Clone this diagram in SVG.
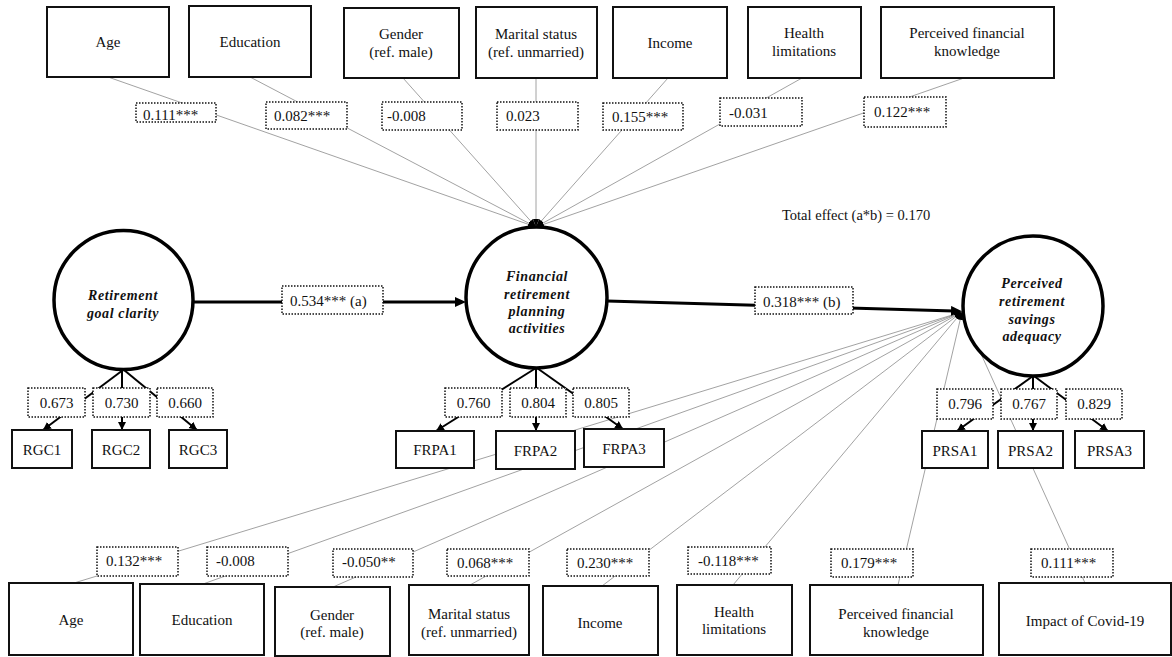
<svg xmlns="http://www.w3.org/2000/svg" width="1172" height="657" viewBox="0 0 1172 657">
<style>
text{font-family:"Liberation Serif","Times New Roman",serif;font-size:15px;fill:#111}
.c{text-anchor:middle}
.lat{font-weight:bold;font-style:italic;font-size:14px;letter-spacing:0.6px;text-anchor:middle}
.box{fill:#fff;stroke:#111;stroke-width:2}
.lbl{fill:#fff;stroke:#111;stroke-width:1.5;stroke-dasharray:1.5 1.5}
.cir{fill:#fff;stroke:#000;stroke-width:3.5}
.cov{stroke:#8a8a8a;stroke-width:0.8;fill:none}
.load{stroke:#000;stroke-width:2;fill:none}
.path{stroke:#000;stroke-width:3;fill:none}
</style>
<defs>
<marker id="big" markerUnits="userSpaceOnUse" markerWidth="12" markerHeight="11" refX="3" refY="5" orient="auto"><path d="M0,0 L11,5 L0,10 z" fill="#000"/></marker>
<marker id="mid" markerUnits="userSpaceOnUse" markerWidth="9" markerHeight="9" refX="8" refY="4" orient="auto"><path d="M0,0 L8,4 L0,8 z" fill="#000"/></marker>
<marker id="tiny" markerUnits="userSpaceOnUse" markerWidth="9" markerHeight="7" refX="8" refY="3" orient="auto"><path d="M0,0 L8,3 L0,6 z" fill="#000"/></marker>
</defs>
<rect width="1172" height="657" fill="#fff"/>

<g id="connectors">
<!-- covariates to FRPA -->
<line class="cov" x1="108" y1="77" x2="536" y2="227" marker-end="url(#tiny)"/>
<line class="cov" x1="250" y1="77" x2="536" y2="227" marker-end="url(#tiny)"/>
<line class="cov" x1="403" y1="78" x2="536" y2="227" marker-end="url(#tiny)"/>
<line class="cov" x1="536" y1="78" x2="536" y2="227" marker-end="url(#tiny)"/>
<line class="cov" x1="668" y1="78" x2="536" y2="227" marker-end="url(#tiny)"/>
<line class="cov" x1="802" y1="78" x2="536" y2="227" marker-end="url(#tiny)"/>
<line class="cov" x1="964" y1="78" x2="536" y2="227" marker-end="url(#tiny)"/>
<!-- covariates to PRSA -->
<line class="cov" x1="74" y1="583" x2="962" y2="312" marker-end="url(#tiny)"/>
<line class="cov" x1="203" y1="584" x2="962" y2="312" marker-end="url(#tiny)"/>
<line class="cov" x1="333" y1="587" x2="962" y2="312" marker-end="url(#tiny)"/>
<line class="cov" x1="470" y1="585" x2="962" y2="312" marker-end="url(#tiny)"/>
<line class="cov" x1="602" y1="586" x2="962" y2="312" marker-end="url(#tiny)"/>
<line class="cov" x1="733" y1="585" x2="962" y2="312" marker-end="url(#tiny)"/>
<line class="cov" x1="898" y1="585" x2="962" y2="312" marker-end="url(#tiny)"/>
<line class="cov" x1="1085" y1="583" x2="962" y2="312" marker-end="url(#tiny)"/>
<!-- structural paths -->
<line class="path" x1="193" y1="302" x2="458" y2="302" marker-end="url(#big)"/>
<line class="path" x1="607" y1="301" x2="954" y2="311" marker-end="url(#big)"/>
<!-- loadings -->
<line class="load" x1="123" y1="370" x2="43" y2="430" marker-end="url(#mid)"/>
<line class="load" x1="122" y1="370" x2="122" y2="430" marker-end="url(#mid)"/>
<line class="load" x1="124" y1="370" x2="197" y2="430" marker-end="url(#mid)"/>
<line class="load" x1="536" y1="368" x2="436" y2="431" marker-end="url(#mid)"/>
<line class="load" x1="536" y1="368" x2="536" y2="431" marker-end="url(#mid)"/>
<line class="load" x1="537" y1="368" x2="623" y2="429" marker-end="url(#mid)"/>
<line class="load" x1="1033" y1="376" x2="957" y2="431" marker-end="url(#mid)"/>
<line class="load" x1="1033" y1="376" x2="1033" y2="431" marker-end="url(#mid)"/>
<line class="load" x1="1034" y1="376" x2="1108" y2="431" marker-end="url(#mid)"/>

<!-- labels top -->
<rect class="lbl" x="136" y="103" width="80" height="19"/><text x="143" y="120">0.111***</text>
<rect class="lbl" x="266" y="102" width="81" height="27"/><text x="274" y="121">0.082***</text>
<rect class="lbl" x="382" y="102" width="80" height="28"/><text x="387" y="121">-0.008</text>
<rect class="lbl" x="497" y="102" width="81" height="28"/><text x="506" y="121">0.023</text>
<rect class="lbl" x="603" y="103" width="80" height="27"/><text x="612" y="122">0.155***</text>
<rect class="lbl" x="720" y="98" width="82" height="28"/><text x="729" y="118">-0.031</text>
<rect class="lbl" x="864" y="97" width="82" height="30"/><text x="874" y="117">0.122***</text>
<!-- labels bottom -->
<rect class="lbl" x="97" y="547" width="81" height="29"/><text x="106" y="566">0.132***</text>
<rect class="lbl" x="207" y="547" width="81" height="29"/><text x="216" y="566">-0.008</text>
<rect class="lbl" x="333" y="549" width="80" height="28"/><text x="342" y="567">-0.050**</text>
<rect class="lbl" x="447" y="549" width="82" height="27"/><text x="457" y="568">0.068***</text>
<rect class="lbl" x="567" y="549" width="82" height="27"/><text x="577" y="568">0.230***</text>
<rect class="lbl" x="688" y="547" width="83" height="27"/><text x="698" y="566">-0.118***</text>
<rect class="lbl" x="831" y="549" width="82" height="28"/><text x="841" y="568">0.179***</text>
<rect class="lbl" x="1031" y="549" width="82" height="28"/><text x="1041" y="568">0.111***</text>
<!-- path labels -->
<rect class="lbl" x="282" y="286" width="101" height="28"/><text x="290" y="306">0.534*** (a)</text>
<rect class="lbl" x="755" y="287" width="98" height="27"/><text x="763" y="307">0.318*** (b)</text>
<!-- loading labels -->
<rect class="lbl" x="28" y="388" width="57" height="29"/><text class="c" x="56.5" y="408">0.673</text>
<rect class="lbl" x="93" y="388" width="57" height="29"/><text class="c" x="121.5" y="408">0.730</text>
<rect class="lbl" x="157" y="388" width="56" height="29"/><text class="c" x="185" y="408">0.660</text>
<rect class="lbl" x="445" y="388" width="57" height="29"/><text class="c" x="473.5" y="408">0.760</text>
<rect class="lbl" x="510" y="388" width="56" height="29"/><text class="c" x="538" y="408">0.804</text>
<rect class="lbl" x="573" y="388" width="56" height="29"/><text class="c" x="601" y="408">0.805</text>
<rect class="lbl" x="937" y="389" width="56" height="30"/><text class="c" x="965" y="409">0.796</text>
<rect class="lbl" x="1001" y="389" width="56" height="30"/><text class="c" x="1029" y="409">0.767</text>
<rect class="lbl" x="1066" y="389" width="56" height="30"/><text class="c" x="1094" y="409">0.829</text>
<text x="782" y="220" style="font-size:14.5px">Total effect (a*b) = 0.170</text>
</g>

<!-- top covariates -->
<g id="t_age"><rect class="box" x="47" y="7" width="122" height="70"/><text class="c" x="108" y="47">Age</text></g>
<g id="t_edu"><rect class="box" x="189" y="6" width="122" height="71"/><text class="c" x="250" y="47">Education</text></g>
<g id="t_gender"><rect class="box" x="344" y="8" width="115" height="70"/><text class="c" x="401" y="39">Gender</text><text class="c" x="401" y="57">(ref. male)</text></g>
<g id="t_marital"><rect class="box" x="476" y="7" width="121" height="71"/><text class="c" x="536" y="39">Marital status</text><text class="c" x="536" y="57">(ref. unmarried)</text></g>
<g id="t_income"><rect class="box" x="613" y="7" width="114" height="71"/><text class="c" x="670" y="48">Income</text></g>
<g id="t_health"><rect class="box" x="748" y="7" width="113" height="71"/><text class="c" x="804" y="38">Health</text><text class="c" x="804" y="56">limitations</text></g>
<g id="t_pfk"><rect class="box" x="881" y="7" width="173" height="71"/><text class="c" x="967" y="38">Perceived financial</text><text class="c" x="967" y="56">knowledge</text></g>

<!-- latent variables -->
<g id="rgc"><circle class="cir" cx="123.5" cy="300" r="69.5"/><text class="lat" x="123" y="300">Retirement</text><text class="lat" x="123" y="318">goal clarity</text></g>
<g id="frpa"><circle class="cir" cx="536.5" cy="297.5" r="70.5"/><text class="lat" x="537" y="281">Financial</text><text class="lat" x="537" y="299">retirement</text><text class="lat" x="537" y="316">planning</text><text class="lat" x="537" y="333">activities</text></g>
<g id="prsa"><circle class="cir" cx="1033" cy="306" r="70"/><text class="lat" x="1032" y="288">Perceived</text><text class="lat" x="1032" y="306">retirement</text><text class="lat" x="1032" y="324">savings</text><text class="lat" x="1032" y="341">adequacy</text></g>

<!-- indicators -->
<g id="rgc1"><rect class="box" x="12" y="430" width="60" height="38"/><text class="c" x="42" y="455">RGC1</text></g>
<g id="rgc2"><rect class="box" x="92" y="430" width="58" height="38"/><text class="c" x="121" y="455">RGC2</text></g>
<g id="rgc3"><rect class="box" x="169" y="430" width="58" height="38"/><text class="c" x="198" y="455">RGC3</text></g>
<g id="frpa1"><rect class="box" x="396" y="431" width="78" height="37"/><text class="c" x="435" y="455">FRPA1</text></g>
<g id="frpa2"><rect class="box" x="496" y="431" width="79" height="38"/><text class="c" x="535.5" y="456">FRPA2</text></g>
<g id="frpa3"><rect class="box" x="584" y="429" width="80" height="38"/><text class="c" x="624" y="454">FRPA3</text></g>
<g id="prsa1"><rect class="box" x="922" y="431" width="66" height="37"/><text class="c" x="955" y="456">PRSA1</text></g>
<g id="prsa2"><rect class="box" x="998" y="431" width="65" height="37"/><text class="c" x="1030.5" y="456">PRSA2</text></g>
<g id="prsa3"><rect class="box" x="1075" y="431" width="69" height="37"/><text class="c" x="1109.5" y="456">PRSA3</text></g>

<!-- bottom covariates -->
<g id="b_age"><rect class="box" x="9" y="583" width="124" height="72"/><text class="c" x="71" y="625">Age</text></g>
<g id="b_edu"><rect class="box" x="140" y="584" width="124" height="71"/><text class="c" x="202" y="625">Education</text></g>
<g id="b_gender"><rect class="box" x="275" y="587" width="115" height="69"/><text class="c" x="332" y="620">Gender</text><text class="c" x="332" y="637">(ref. male)</text></g>
<g id="b_marital"><rect class="box" x="409" y="585" width="120" height="70"/><text class="c" x="469" y="619">Marital status</text><text class="c" x="469" y="637">(ref. unmarried)</text></g>
<g id="b_income"><rect class="box" x="543" y="586" width="115" height="69"/><text class="c" x="600" y="628">Income</text></g>
<g id="b_health"><rect class="box" x="677" y="585" width="115" height="70"/><text class="c" x="734" y="617">Health</text><text class="c" x="734" y="634">limitations</text></g>
<g id="b_pfk"><rect class="box" x="810" y="585" width="173" height="70"/><text class="c" x="896" y="619">Perceived financial</text><text class="c" x="896" y="637">knowledge</text></g>
<g id="b_covid"><rect class="box" x="999" y="583" width="172" height="72"/><text class="c" x="1085" y="626">Impact of Covid-19</text></g>
</svg>
